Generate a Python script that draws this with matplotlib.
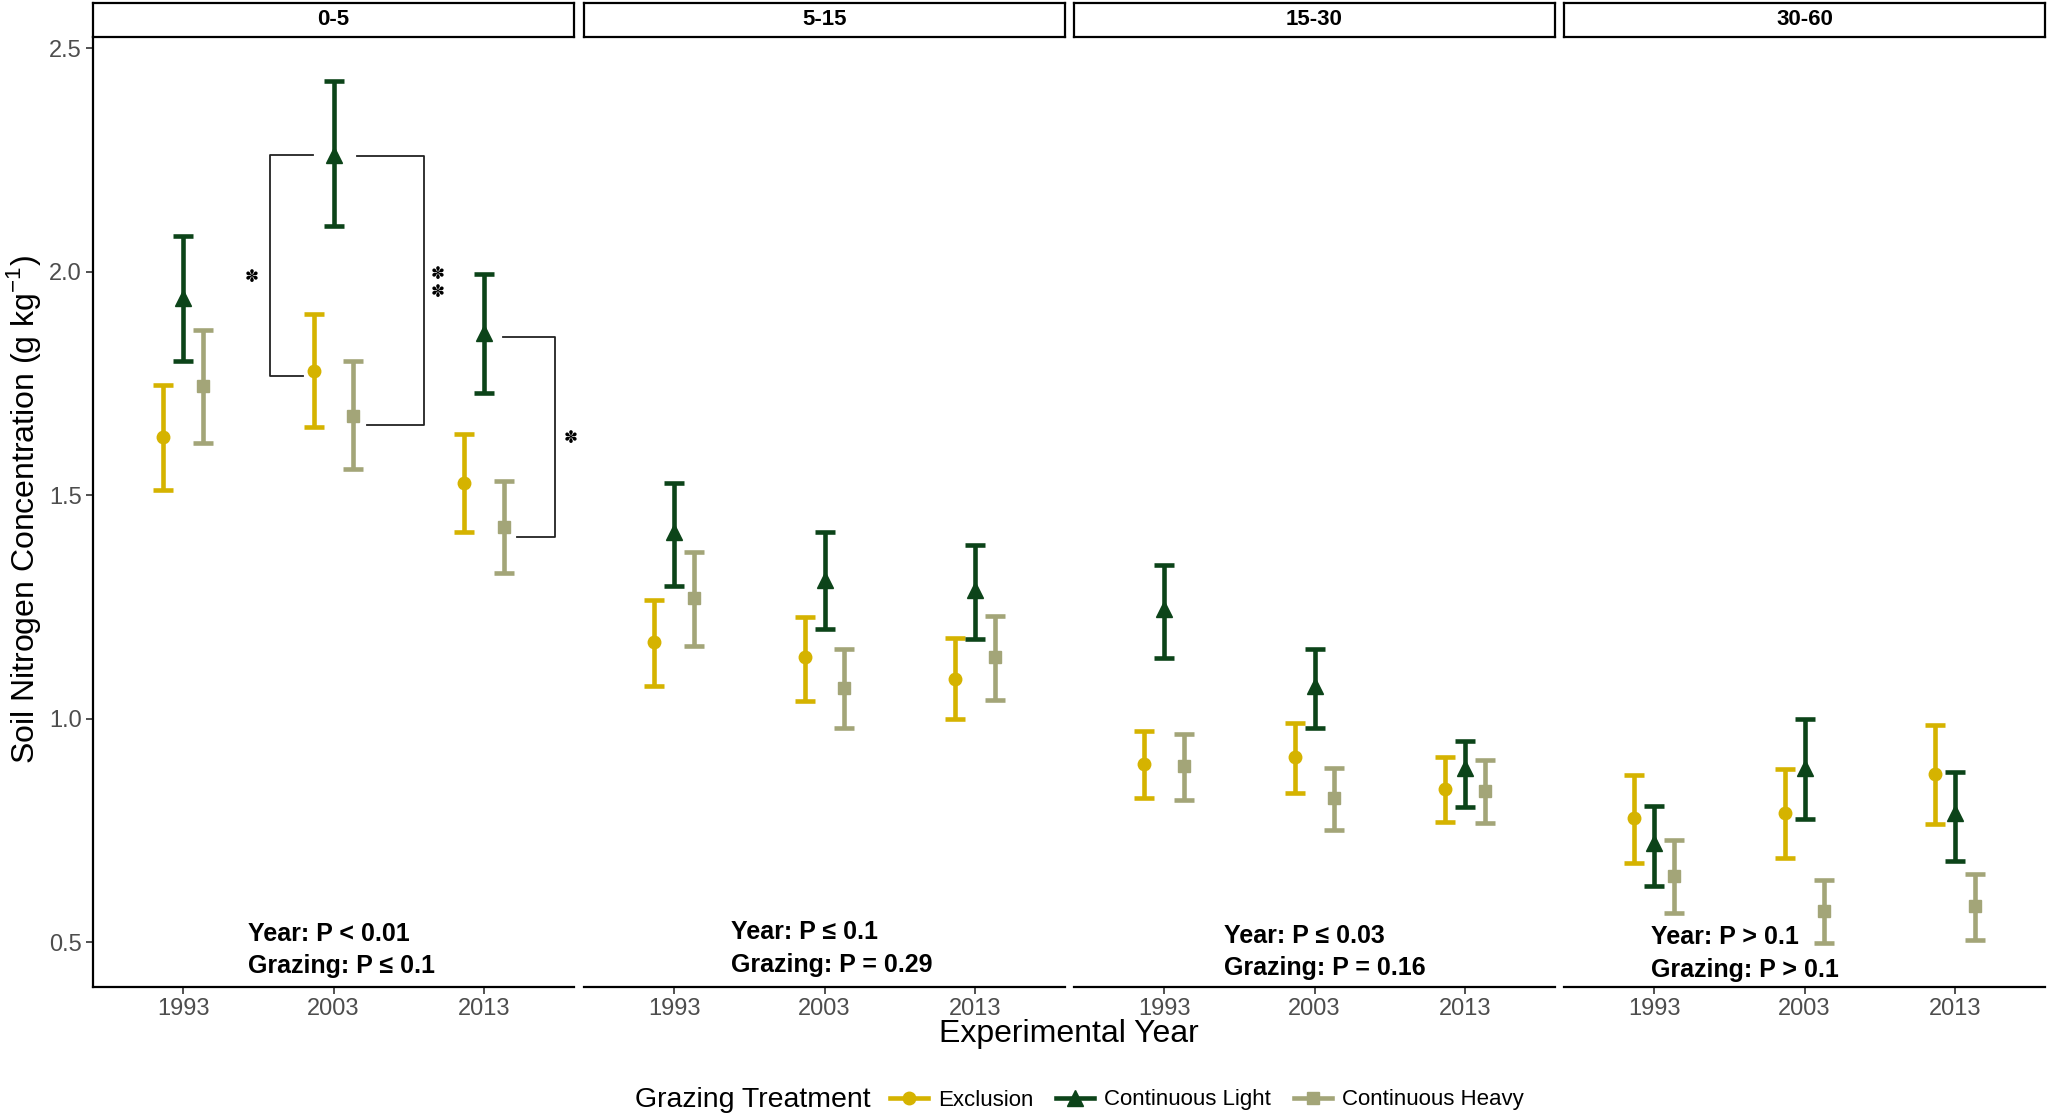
import numpy as np
import matplotlib.pyplot as plt
from matplotlib.lines import Line2D

plt.rcParams["font.family"] = ["Liberation Sans", "DejaVu Sans"]
plt.rcParams["mathtext.fontset"] = "custom"
plt.rcParams["mathtext.rm"] = "Liberation Sans"

years = ["1993", "2003", "2013"]
depths = ["0-5", "5-15", "15-30", "30-60"]
treatments = ["Exclusion", "Continuous Light", "Continuous Heavy"]

# mean, lower, upper per depth (rows) and year (cols)
excl_mean = [[1.630, 1.778, 1.528], [1.171, 1.138, 1.089], [0.900, 0.915, 0.843], [0.779, 0.790, 0.877]]
excl_lo = [[1.512, 1.652, 1.418], [1.073, 1.041, 0.999], [0.823, 0.835, 0.770], [0.678, 0.689, 0.765]]
excl_hi = [[1.746, 1.906, 1.638], [1.267, 1.228, 1.180], [0.973, 0.990, 0.915], [0.874, 0.887, 0.987]]

light_mean = [[1.941, 2.262, 1.864], [1.417, 1.310, 1.288], [1.245, 1.074, 0.889], [0.722, 0.889, 0.789]]
light_lo = [[1.800, 2.102, 1.728], [1.298, 1.200, 1.178], [1.137, 0.979, 0.803], [0.625, 0.775, 0.683]]
light_hi = [[2.080, 2.426, 1.996], [1.528, 1.417, 1.388], [1.344, 1.157, 0.950], [0.806, 0.999, 0.882]]

heavy_mean = [[1.744, 1.678, 1.429], [1.270, 1.070, 1.138], [0.894, 0.823, 0.839], [0.648, 0.571, 0.582]]
heavy_lo = [[1.618, 1.558, 1.327], [1.164, 0.980, 1.043], [0.819, 0.752, 0.768], [0.565, 0.499, 0.506]]
heavy_hi = [[1.870, 1.800, 1.532], [1.374, 1.156, 1.231], [0.967, 0.890, 0.909], [0.728, 0.639, 0.653]]

year_p = ["Year: P < 0.01", "Year: P \u2264 0.1", "Year: P \u2264 0.03", "Year: P > 0.1"]
grazing_p = ["Grazing: P \u2264 0.1", "Grazing: P = 0.29", "Grazing: P = 0.16", "Grazing: P > 0.1"]
label_x = [1.43, 1.38, 1.40, 0.98]
label_y = [0.518, 0.522, 0.514, 0.511]

# brackets in the 0-5 panel: x of vertical, y top, y bottom, x start top, x start bottom, stars, star x, star y
brackets = [
    (1.579, 2.262, 1.768, 1.863, 1.794, "\u273d", 1.452, 1.988),
    (2.599, 2.259, 1.658, 2.155, 2.226, "\u273d\n\u273d", 2.693, 1.976),
    (3.475, 1.854, 1.406, 3.127, 3.221, "\u273d", 3.576, 1.628),
]

colors = ["#D5B300", "#0C4419", "#A3A578"]
markers = ["o", "^", "s"]
msizes = [9, 11, 8.5]
series = [
    (excl_mean, excl_lo, excl_hi),
    (light_mean, light_lo, light_hi),
    (heavy_mean, heavy_lo, heavy_hi),
]
offsets = [-0.133, 0.0, 0.133]

W, H = 2049, 1118
fig = plt.figure(figsize=(W / 100, H / 100), dpi=100)

panel_x = [(93, 574), (584, 1065), (1074, 1555), (1564, 2045)]
top, bottom = 36.8, 987
strip_top = 3

x = np.arange(1, len(years) + 1)
for p, (x0, x1) in enumerate(panel_x):
    ax = fig.add_axes([x0 / W, 1 - bottom / H, (x1 - x0) / W, (bottom - top) / H])
    for s, (m, lo, hi) in enumerate(series):
        mean = np.array(m[p])
        err = [mean - np.array(lo[p]), np.array(hi[p]) - mean]
        ax.errorbar(x + offsets[s], mean, yerr=err, fmt=markers[s], color=colors[s],
                    ms=msizes[s], elinewidth=3.3, capsize=7.5, capthick=3.3, zorder=3)
    ax.set_xlim(0.4, 3.6)
    ax.set_ylim(0.40, 2.526)
    ax.set_xticks(x)
    ax.set_xticklabels(years)
    ax.set_yticks([0.5, 1.0, 1.5, 2.0, 2.5])
    ax.tick_params(axis="both", labelsize=17, labelcolor="#4D4D4D", color="#333333",
                   length=5, width=1.2, pad=3)
    for side in ["top", "right"]:
        ax.spines[side].set_visible(False)
    ax.spines["bottom"].set_linewidth(1.6)
    if p == 0:
        ax.spines["left"].set_linewidth(1.6)
    else:
        ax.spines["left"].set_visible(False)
        ax.tick_params(axis="y", left=False, labelleft=False)

    ax.text(label_x[p], label_y[p], year_p[p], fontsize=18, fontweight="bold",
            ha="left", va="center", family=["Liberation Sans", "DejaVu Sans"])
    ax.text(label_x[p], label_y[p] - 0.072, grazing_p[p], fontsize=18, fontweight="bold",
            ha="left", va="center", family=["Liberation Sans", "DejaVu Sans"])

    if p == 0:
        for xv, yt, yb, xt, xb, star, sx, sy in brackets:
            ax.plot([xt, xv, xv, xb], [yt, yt, yb, yb], color="#222222", lw=1.3, zorder=2)
            ax.text(sx, sy, star, fontsize=12, ha="center", va="center", linespacing=1.0,
                    family=["DejaVu Sans"], clip_on=False)

    # strip
    sax = fig.add_axes([x0 / W, 1 - top / H, (x1 - x0) / W, (top - strip_top) / H])
    sax.set_xticks([])
    sax.set_yticks([])
    for sp in sax.spines.values():
        sp.set_linewidth(1.6)
    sax.text(0.5, 0.5, depths[p], fontsize=16, fontweight="bold", ha="center", va="center",
             transform=sax.transAxes)

fig.text(24 / W, 1 - 510 / H, "Soil Nitrogen Concentration (g kg$^{\\mathregular{-1}}$)",
         rotation=90, fontsize=23, ha="center", va="center")
fig.text(1069 / W, 1 - 1034 / H, "Experimental Year", fontsize=23, ha="center", va="center")

# legend
fig.text(635 / W, 1 - 1100 / H, "Grazing Treatment", fontsize=20.5, ha="left", va="center")
handles = [Line2D([0], [0], color=colors[i], marker=markers[i], ms=msizes[i], lw=3.3)
           for i in range(3)]
fig.legend(handles, treatments, loc="center left", bbox_to_anchor=(890 / W, 1 - 1100 / H),
           ncol=3, frameon=False, fontsize=16, handlelength=1.7, handletextpad=0.45,
           columnspacing=1.05, borderpad=0, borderaxespad=0)

fig.savefig("out.png", dpi=100)
